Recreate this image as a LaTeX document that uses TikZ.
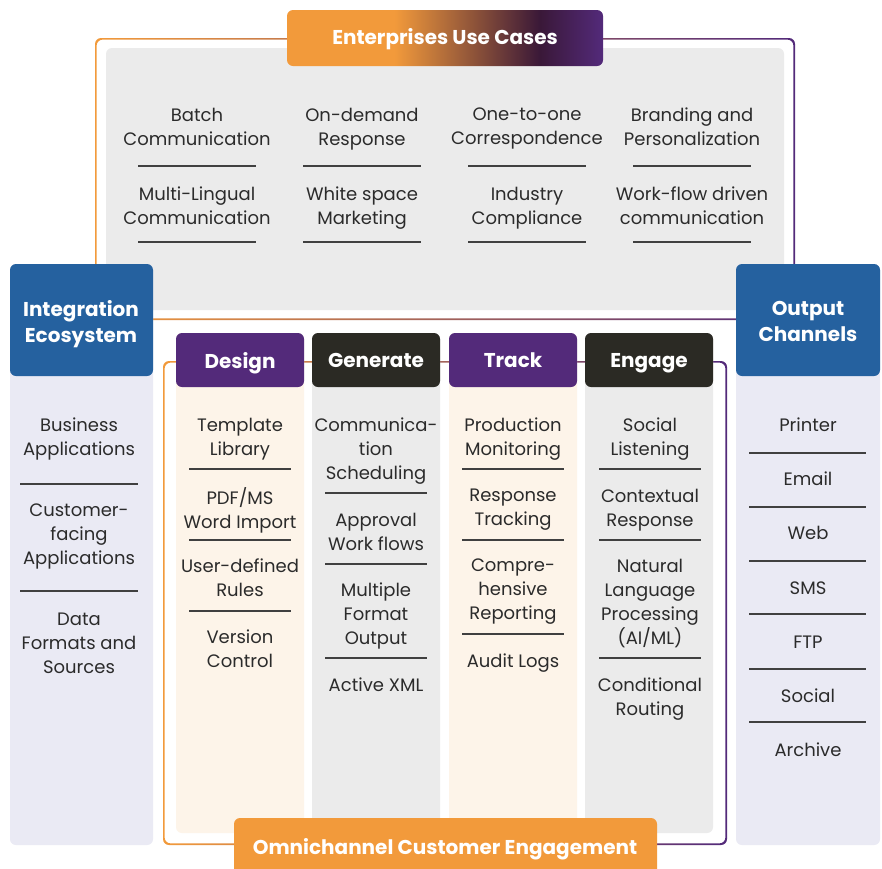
\documentclass[tikz,border=0pt]{standalone}
\usepackage{fontspec}
\setmainfont{Poppins}
\usetikzlibrary{positioning}

\definecolor{ucorange}{HTML}{F29A3B}
\definecolor{ucdeep}{HTML}{3A1838}
\definecolor{ucpurple}{HTML}{532A7A}
\definecolor{ucdark}{HTML}{2B2A24}
\definecolor{ucblue}{HTML}{25619F}
\definecolor{panelgray}{HTML}{EBEBEB}
\definecolor{panellav}{HTML}{EAEAF4}
\definecolor{panelcream}{HTML}{FDF4E9}
\definecolor{txt}{HTML}{2B2B2B}

\pgfdeclarehorizontalshading{titleshade}{100bp}{color(0bp)=(ucorange); color(42bp)=(ucorange); color(65bp)=(ucdeep); color(75bp)=(ucpurple); color(100bp)=(ucpurple)}

\tikzset{
  even/.style={execute at begin node=\vphantom{Alg}, execute at end node=\vphantom{Alg}, yshift=-1pt},
  item/.style={even, align=center, text=txt, inner sep=0pt, font=\fontsize{18}{24}\selectfont},
  head/.style={even, align=center, text=white, inner sep=0pt, font=\bfseries\fontsize{20}{26}\selectfont},
  sepline/.style={draw=txt!90, line width=1.1pt},
  ring/.style={left color=ucorange, right color=ucpurple, even odd rule, rounded corners=6pt}
}

\begin{document}
\begin{tikzpicture}[x=1pt,y=-1pt]
\useasboundingbox (0,0) rectangle (882,868);
\fill[white] (0,0) rectangle (882,868);

% enterprise use cases
\shade[ring] (95,38) rectangle (795,320) (96.6,39.6) rectangle (793.4,318.4);
\fill[panelgray, rounded corners=6pt] (106,48) rectangle (784,310);
\shade[shading=titleshade, rounded corners=6pt] (287,10) rectangle (603,66);
\node[head] (usecases) at (445,38) {Enterprises Use Cases};

\node[item] (batch) at (197,128) {Batch\\Communication};
\node[item] (ondemand) at (362,128) {On-demand\\Response};
\node[item] (onetoone) at (527,128) {One-to-one\\Correspondence};
\node[item] (branding) at (692,128) {Branding and\\Personalization};
\node[item] (multiling) at (197,207) {Multi-Lingual\\Communication};
\node[item] (whitespace) at (362,207) {White space\\Marketing};
\node[item] (industry) at (527,207) {Industry\\Compliance};
\node[item] (workflow) at (692,207) {Work-flow driven\\communication};
\foreach \cx in {197,362,527,692}{
  \draw[sepline] (\cx-59,166) -- (\cx+59,166);
  \draw[sepline] (\cx-59,242) -- (\cx+59,242);
}

% omnichannel frame
\shade[ring] (163,361) rectangle (727,845) (164.6,362.6) rectangle (725.4,843.4);

% integration ecosystem
\fill[panellav, rounded corners=6pt] (10,264) rectangle (153,845);
\fill[ucblue, rounded corners=6pt] (10,264) rectangle (153,376);
\node[head] (integration) at (81,323) {Integration\\Ecosystem};
\node[item] (business) at (79,438) {Business\\Applications};
\node[item] (customer) at (79,536) {Customer-\\facing\\Applications};
\node[item] (dataform) at (79,645) {Data\\Formats and\\Sources};
\draw[sepline] (20,484) -- (138,484);
\draw[sepline] (20,591) -- (138,591);

% output channels
\fill[panellav, rounded corners=6pt] (736,264) rectangle (880,845);
\fill[ucblue, rounded corners=6pt] (736,264) rectangle (880,376);
\node[head] (output) at (808,323) {Output\\Channels};
\node[item] (printer) at (808,426) {Printer};
\node[item] (email) at (808,480) {Email};
\node[item] (web) at (808,534) {Web};
\node[item] (sms) at (808,589) {SMS};
\node[item] (ftp) at (808,643) {FTP};
\node[item] (social) at (808,697) {Social};
\node[item] (archive) at (808,751) {Archive};
\foreach \ly in {453,507,561,614,669,722}
  \draw[sepline] (749,\ly) -- (866,\ly);

% stages
\fill[panelcream, rounded corners=6pt] (176,333) rectangle (304,833);
\fill[panelgray, rounded corners=6pt] (312,333) rectangle (440,833);
\fill[panelcream, rounded corners=6pt] (449,333) rectangle (577,833);
\fill[panelgray, rounded corners=6pt] (585,333) rectangle (713,833);
\fill[ucpurple, rounded corners=6pt] (176,333) rectangle (304,387);
\fill[ucdark, rounded corners=6pt] (312,333) rectangle (440,387);
\fill[ucpurple, rounded corners=6pt] (449,333) rectangle (577,387);
\fill[ucdark, rounded corners=6pt] (585,333) rectangle (713,387);
\node[head] (design) at (240,362) {Design};
\node[head] (generate) at (376,362) {Generate};
\node[head] (track) at (513,362) {Track};
\node[head] (engage) at (649,362) {Engage};

\node[item] (template) at (240,438) {Template\\Library};
\node[item] (pdfms) at (240,509) {PDF/MS\\Word Import};
\node[item] (userdef) at (240,579) {User-defined\\Rules};
\node[item] (version) at (240,650) {Version\\Control};
\foreach \ly in {469,540,611}
  \draw[sepline] (189,\ly) -- (291,\ly);

\node[item] (schedule) at (376,450) {Communica-\\tion\\Scheduling};
\node[item] (approval) at (376,533) {Approval\\Work flows};
\node[item] (multiple) at (376,615) {Multiple\\Format\\Output};
\node[item] (activexml) at (376,686) {Active XML};
\foreach \ly in {493,564,658}
  \draw[sepline] (325,\ly) -- (427,\ly);

\node[item] (production) at (513,438) {Production\\Monitoring};
\node[item] (response) at (513,509) {Response\\Tracking};
\node[item] (reporting) at (513,591) {Compre-\\hensive\\Reporting};
\node[item] (audit) at (513,662) {Audit Logs};
\foreach \ly in {469,540,634}
  \draw[sepline] (462,\ly) -- (564,\ly);

\node[item] (listening) at (650,438) {Social\\Listening};
\node[item] (contextual) at (650,509) {Contextual\\Response};
\node[item] (natural) at (650,603) {Natural\\Language\\Processing\\(AI/ML)};
\node[item] (routing) at (650,698) {Conditional\\Routing};
\foreach \ly in {469,540,658}
  \draw[sepline] (599,\ly) -- (701,\ly);

% omnichannel title
\fill[ucorange, rounded corners=6pt] (234,818) rectangle (657,878);
\node[head] (omni) at (445,848) {Omnichannel Customer Engagement};
\end{tikzpicture}
\end{document}
